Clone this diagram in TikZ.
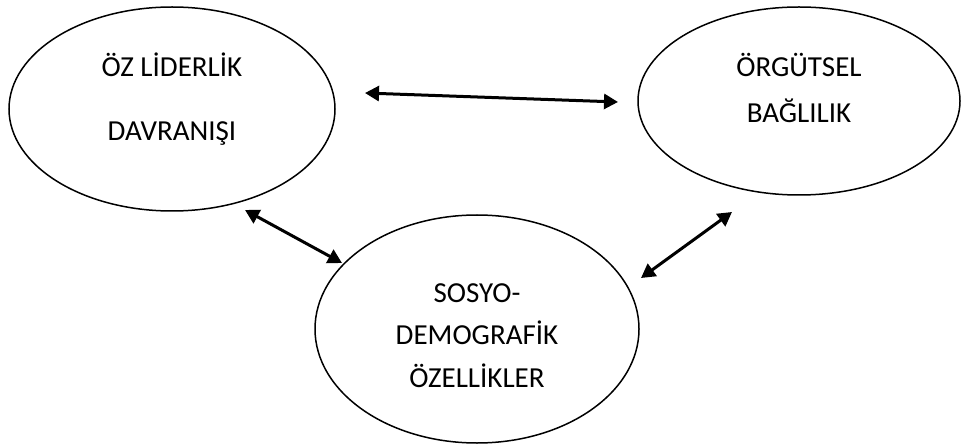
\documentclass[tikz,border=0pt]{standalone}
\usepackage{fontspec}
\setmainfont{Carlito}
\usetikzlibrary{shapes.geometric, arrows.meta, positioning}

\tikzset{
    oval/.style={draw, ellipse, line width=1.5pt, inner sep=0pt, align=center,
                 font=\fontsize{29}{42.5}\selectfont},
    link/.style={{Triangle[length=14pt,width=15pt]}-{Triangle[length=14pt,width=15pt]}, line width=3pt}
}

\begin{document}
\begin{tikzpicture}[x=1pt, y=-1pt]
    \useasboundingbox (0,0) rectangle (963,446);

    \node[oval, minimum width=326pt, minimum height=204pt, text height=89pt, text depth=25pt]
        (lider) at (172,109) {ÖZ LİDERLİK\\[21.5pt]DAVRANIŞI};
    \node[oval, minimum width=322pt, minimum height=188pt, text height=71pt, text depth=27pt]
        (baglilik) at (799,101) {ÖRGÜTSEL\\[3.5pt]BAĞLILIK};
    \node[oval, minimum width=324pt, minimum height=228pt, text height=121pt, text depth=5pt]
        (sosyo) at (477,329) {SOSYO-\\DEMOGRAFİK\\ÖZELLİKLER};

    % arrow ends
    \coordinate (lb1) at (365,93);
    \coordinate (lb2) at (618,102);
    \coordinate (ls1) at (245,210);
    \coordinate (ls2) at (342,263);
    \coordinate (sb1) at (641,278);
    \coordinate (sb2) at (732,212);

    \draw[link] (lb1) -- (lb2);
    \draw[link] (ls1) -- (ls2);
    \draw[link] (sb1) -- (sb2);
\end{tikzpicture}
\end{document}
